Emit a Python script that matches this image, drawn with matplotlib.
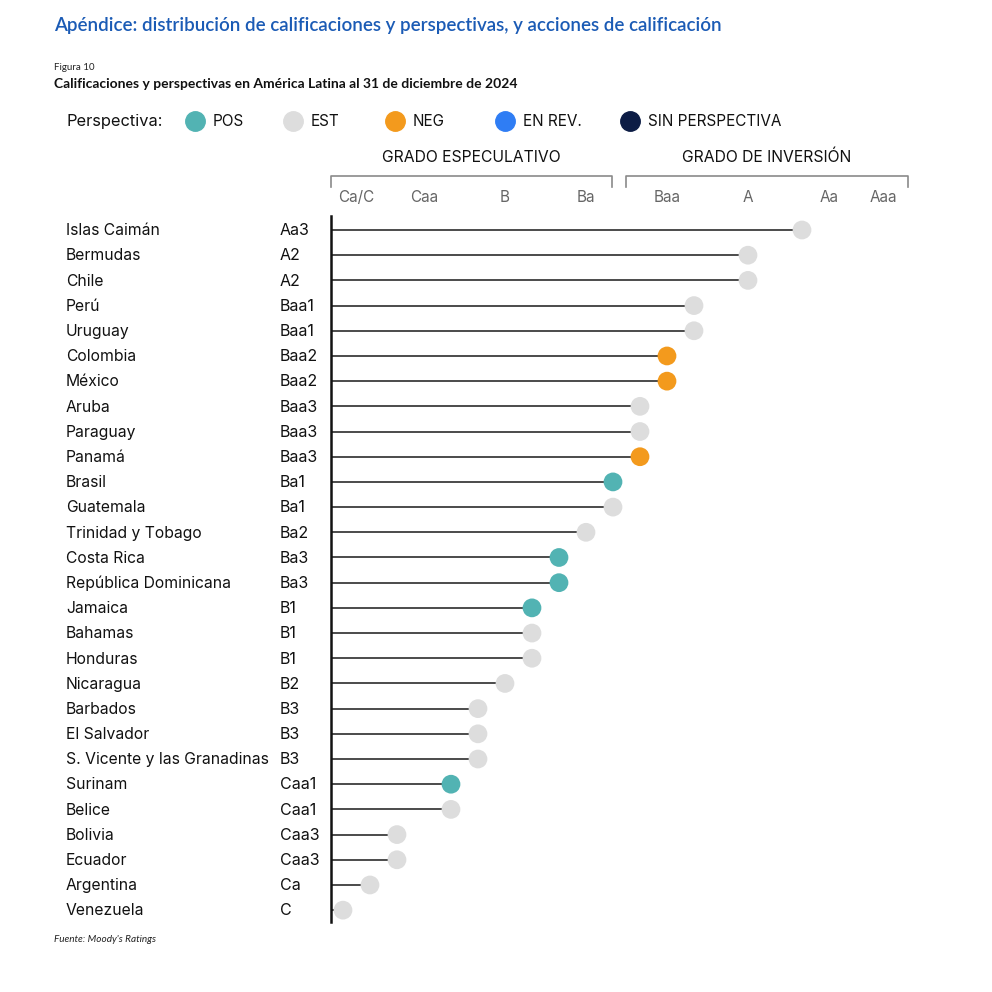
import numpy as np
import matplotlib
matplotlib.use("Agg")
from matplotlib import pyplot as plt
from matplotlib import transforms

# datos
escala = ["C", "Ca", "Caa3", "Caa2", "Caa1", "B3", "B2", "B1", "Ba3", "Ba2", "Ba1",
          "Baa3", "Baa2", "Baa1", "A3", "A2", "A1", "Aa3", "Aa2", "Aa1", "Aaa"]
grupos = ["Ca/C", "Caa", "B", "Ba", "Baa", "A", "Aa", "Aaa"]

paises = ["Islas Caimán", "Bermudas", "Chile", "Perú", "Uruguay", "Colombia", "México",
          "Aruba", "Paraguay", "Panamá", "Brasil", "Guatemala", "Trinidad y Tobago",
          "Costa Rica", "República Dominicana", "Jamaica", "Bahamas", "Honduras",
          "Nicaragua", "Barbados", "El Salvador", "S. Vicente y las Granadinas",
          "Surinam", "Belice", "Bolivia", "Ecuador", "Argentina", "Venezuela"]
calif = ["Aa3", "A2", "A2", "Baa1", "Baa1", "Baa2", "Baa2", "Baa3", "Baa3", "Baa3",
         "Ba1", "Ba1", "Ba2", "Ba3", "Ba3", "B1", "B1", "B1", "B2", "B3", "B3", "B3",
         "Caa1", "Caa1", "Caa3", "Caa3", "Ca", "C"]
perspectiva = ["EST", "EST", "EST", "EST", "EST", "NEG", "NEG", "EST", "EST", "NEG",
               "POS", "EST", "EST", "POS", "POS", "POS", "EST", "EST", "EST", "EST",
               "EST", "EST", "POS", "EST", "EST", "EST", "EST", "EST"]

leyenda = ["POS", "EST", "NEG", "EN REV.", "SIN PERSPECTIVA"]
colores = {"POS": "#52b3b3", "EST": "#dddddd", "NEG": "#f39a1d",
           "EN REV.": "#2f7df4", "SIN PERSPECTIVA": "#0c1c45"}

plt.rcParams['font.family'] = ['Inter', 'DejaVu Sans']

W = 992
fig = plt.figure(figsize=(9.92, 9.92), dpi=100)


def fy(py):
    return 1 - py / W


ax = fig.add_axes([331 / W, fy(922), (910 - 331) / W, (922 - 216) / W])
x0 = 0.556
ax.set_xlim(x0, 22.0)
ax.set_ylim(27.47, -0.556)

valor = [escala.index(c) + 1 for c in calif]
filas = np.arange(len(paises))
ax.hlines(filas, x0, valor, color="#1a1a1a", lw=1.1, zorder=1)
ax.scatter(valor, filas, s=13.5 ** 2, c=[colores[p] for p in perspectiva],
           edgecolors="none", zorder=2, clip_on=False)

for s in ["top", "right", "bottom"]:
    ax.spines[s].set_visible(False)
ax.spines["left"].set_linewidth(1.8)
ax.spines["left"].set_color("#111111")
ax.set_xticks([])
ax.set_yticks([])

# nombres y calificaciones
tr = transforms.blended_transform_factory(fig.transFigure, ax.transData)
for i in filas:
    ax.text(66 / W, i + 0.03, paises[i], transform=tr, fontsize=11.3, va="center", ha="left", color="#111111")
    ax.text(280 / W, i + 0.03, calif[i], transform=tr, fontsize=11.5, va="center", ha="left", color="#111111")

# etiquetas de grupo arriba
trx = transforms.blended_transform_factory(ax.transData, fig.transFigure)
for g in grupos:
    if g == "Ca/C":
        idx = [1, 2]
    else:
        idx = [k + 1 for k, c in enumerate(escala) if c.rstrip("123") == g]
    ax.text(np.mean(idx), fy(197), g, transform=trx, fontsize=11, ha="center",
            va="center", color="#666666")

# corchetes
for a, b, txt in [(x0, 10.96, "GRADO ESPECULATIVO"), (11.48, 21.93, "GRADO DE INVERSIÓN")]:
    ax.plot([a, a, b, b], [fy(187), fy(176), fy(176), fy(187)], transform=trx,
            color="#8a8a8a", lw=1.2, clip_on=False)
    ax.text((a + b) / 2, fy(157), txt, transform=trx, fontsize=11.3, ha="center",
            va="center", color="#111111")

# leyenda
fig.text(66 / W, fy(121.5), "Perspectiva:", fontsize=11.8, va="center", color="#111111")
lx = [195, 293, 395, 505, 630]
for x, nom in zip(lx, leyenda):
    fig.add_artist(plt.Line2D([x / W], [fy(121)], marker="o", markersize=14,
                              color=colores[nom], lw=0))
    fig.text((x + 18) / W, fy(121.5), nom, fontsize=11, va="center", color="#111111")

# títulos
fig.text(54 / W, fy(26), "Apéndice: distribución de calificaciones y perspectivas, y acciones de calificación",
         fontsize=13.5, color="#1b5bb5", va="center", family=["Lato", "DejaVu Sans"], weight="semibold")
fig.text(54 / W, fy(68), "Figura 10", fontsize=7, va="center", color="#222222",
         family=["Lato", "DejaVu Sans"])
fig.text(54 / W, fy(84), "Calificaciones y perspectivas en América Latina al 31 de diciembre de 2024",
         fontsize=10, va="center", weight="bold", color="#111111", family=["Lato", "DejaVu Sans"])
fig.text(54 / W, fy(940), "Fuente: Moody's Ratings", fontsize=7.2, va="center", style="italic",
         color="#222222", family=["Lato", "DejaVu Sans"])

plt.savefig("out.png", dpi=100)
